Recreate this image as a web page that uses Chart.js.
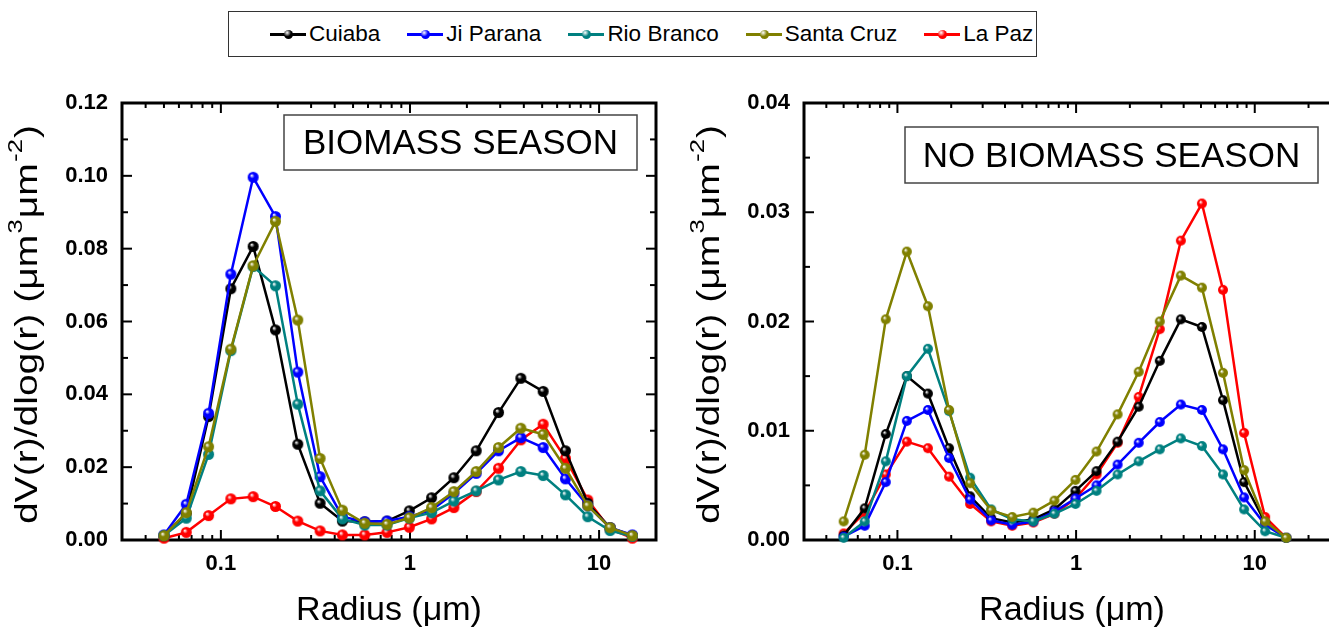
<!DOCTYPE html>
<html>
<head>
<meta charset="utf-8">
<script src="https://cdn.jsdelivr.net/npm/chart.js@4.4.0/dist/chart.umd.min.js"></script>
<style>
  html, body { margin: 0; padding: 0; background: #fff; overflow: hidden; width: 1329px; height: 633px; }
  #legend {
    position: absolute; left: 228px; top: 11px; width: 809px; height: 46px;
    box-sizing: border-box; border: 1.5px solid #333; padding-left: 41px;
    display: flex; align-items: center; justify-content: flex-start; gap: 27px;
    font: 22.5px "Liberation Sans", Arial, sans-serif; color: #000;
  }
  .item { display: flex; align-items: center; }
  .swatch { position: relative; width: 36px; height: 3px; margin-right: 3px; }
  .swatch i { position: absolute; left: 14px; top: -3px; width: 9px; height: 9px; border-radius: 50%; }
  #left { position: absolute; left: 0; top: 0; }
  #right { position: absolute; left: 665px; top: 0; }
</style>
</head>
<body>
<div id="legend"></div>
<canvas id="left" width="665" height="633"></canvas>
<canvas id="right" width="700" height="633"></canvas>
<script>
// Particle radius bins (µm)
const radiusUm = [0.05, 0.065604, 0.086077, 0.112939, 0.148184, 0.194429, 0.255105, 0.334716,
  0.439173, 0.576227, 0.756052, 0.991996, 1.301571, 1.707757, 2.240702, 2.939966,
  3.857452, 5.06126, 6.640745, 8.713145, 11.432287, 15.0];

const siteNames = ["Cuiaba", "Ji Parana", "Rio Branco", "Santa Cruz", "La Paz"];
const siteColors = ["#000000", "#0000ff", "#008080", "#808000", "#ff0000"];

// Volume size distributions, biomass burning season
const biomassCuiaba    = [0.0012, 0.0073, 0.0339, 0.0690, 0.0806, 0.0577, 0.0263, 0.0101, 0.0052, 0.0050, 0.0052, 0.0080, 0.0116, 0.0171, 0.0245, 0.0350, 0.0444, 0.0408, 0.0245, 0.0101, 0.0034, 0.0012];
const biomassJiParana  = [0.0014, 0.0098, 0.0348, 0.0730, 0.0996, 0.0888, 0.0461, 0.0174, 0.0064, 0.0050, 0.0052, 0.0064, 0.0082, 0.0128, 0.0183, 0.0245, 0.0281, 0.0254, 0.0168, 0.0094, 0.0034, 0.0014];
const biomassRioBranco = [0.0012, 0.0060, 0.0235, 0.0520, 0.0751, 0.0698, 0.0373, 0.0135, 0.0058, 0.0041, 0.0041, 0.0060, 0.0075, 0.0107, 0.0135, 0.0165, 0.0188, 0.0177, 0.0124, 0.0064, 0.0026, 0.0010];
const biomassSantaCruz = [0.0012, 0.0075, 0.0256, 0.0524, 0.0753, 0.0875, 0.0604, 0.0224, 0.0082, 0.0046, 0.0043, 0.0061, 0.0089, 0.0133, 0.0188, 0.0254, 0.0307, 0.0290, 0.0197, 0.0094, 0.0034, 0.0012];
const biomassLaPaz     = [0.0005, 0.0021, 0.0067, 0.0113, 0.0119, 0.0092, 0.0052, 0.0025, 0.0014, 0.0014, 0.0021, 0.0035, 0.0058, 0.0089, 0.0133, 0.0197, 0.0275, 0.0318, 0.0224, 0.0110, 0.0030, 0.0005];

// Volume size distributions, no biomass burning season
const cleanCuiaba    = [0.0004, 0.0029, 0.0097, 0.0150, 0.0134, 0.0084, 0.0040, 0.0020, 0.0016, 0.0019, 0.0028, 0.0045, 0.0063, 0.0090, 0.0122, 0.0164, 0.0202, 0.0195, 0.0128, 0.0053, 0.0016, 0.0002];
const cleanJiParana  = [0.0003, 0.0013, 0.0053, 0.0109, 0.0119, 0.0075, 0.0037, 0.0018, 0.0014, 0.0017, 0.0026, 0.0038, 0.0050, 0.0069, 0.0089, 0.0108, 0.0124, 0.0119, 0.0083, 0.0039, 0.0014, 0.0002];
const cleanRioBranco = [0.0002, 0.0017, 0.0072, 0.0150, 0.0175, 0.0118, 0.0057, 0.0028, 0.0019, 0.0017, 0.0024, 0.0033, 0.0045, 0.0060, 0.0072, 0.0083, 0.0093, 0.0086, 0.0060, 0.0028, 0.0008, 0.0002];
const cleanSantaCruz = [0.0017, 0.0078, 0.0202, 0.0264, 0.0214, 0.0119, 0.0052, 0.0027, 0.0021, 0.0025, 0.0036, 0.0055, 0.0081, 0.0115, 0.0154, 0.0200, 0.0242, 0.0231, 0.0153, 0.0064, 0.0017, 0.0002];
const cleanLaPaz     = [0.0006, 0.0025, 0.0060, 0.0090, 0.0084, 0.0058, 0.0033, 0.0017, 0.0013, 0.0016, 0.0024, 0.0038, 0.0060, 0.0089, 0.0131, 0.0193, 0.0274, 0.0308, 0.0229, 0.0098, 0.0021, 0.0002];

const xTickValues = [0.1, 1, 10];
const FONT = '"Liberation Sans", Arial, sans-serif';

// Shaded sphere marker sprite
function ball(color, r) {
  const s = Math.ceil(r * 2 + 2);
  const c = document.createElement('canvas');
  c.width = c.height = s;
  const g = c.getContext('2d');
  const cx = s / 2, cy = s / 2;
  const grad = g.createRadialGradient(cx - r * 0.3, cy - r * 0.35, r * 0.05, cx, cy, r);
  grad.addColorStop(0, '#ffffff');
  grad.addColorStop(0.4, color);
  grad.addColorStop(1, color);
  g.fillStyle = grad;
  g.beginPath(); g.arc(cx, cy, r, 0, Math.PI * 2); g.fill();
  return c;
}

// HTML legend shared by both panels
const legendEl = document.getElementById('legend');
siteNames.forEach((name, i) => {
  const item = document.createElement('div');
  item.className = 'item';
  const sw = document.createElement('div');
  sw.className = 'swatch';
  sw.style.background = siteColors[i];
  const dot = document.createElement('i');
  dot.style.background = `radial-gradient(circle at 35% 30%, #fff 0%, ${siteColors[i]} 45%)`;
  sw.appendChild(dot);
  const label = document.createElement('span');
  label.textContent = name;
  item.appendChild(sw); item.appendChild(label);
  legendEl.appendChild(item);
});

// Box frame with inward major/minor ticks on all four sides
const framePlugin = {
  id: 'frame',
  beforeDatasetsDraw(chart, args, opts) {
    const { ctx, chartArea: a, scales: { x, y } } = chart;
    ctx.save();
    ctx.strokeStyle = '#000';
    ctx.lineWidth = 2;
    const seg = (x1, y1, x2, y2) => { ctx.beginPath(); ctx.moveTo(x1, y1); ctx.lineTo(x2, y2); ctx.stroke(); };
    const e0 = Math.floor(Math.log10(x.min)), e1 = Math.ceil(Math.log10(x.max));
    for (let e = e0; e <= e1; e++) {
      for (let m = 1; m < 10; m++) {
        const v = m * Math.pow(10, e);
        if (v < x.min * 0.999 || v > x.max * 1.001) continue;
        const px = x.getPixelForValue(v);
        const len = m === 1 ? 10 : 5;
        seg(px, a.bottom, px, a.bottom - len);
        seg(px, a.top, px, a.top + len);
      }
    }
    const n = Math.round(y.max / opts.minorStep);
    for (let k = 0; k <= n; k++) {
      const py = y.getPixelForValue(k * opts.minorStep);
      const len = (k % 2 === 0) ? 10 : 6;
      seg(a.left, py, a.left + len, py);
      seg(a.right, py, a.right - len, py);
    }
    ctx.lineWidth = 3;
    ctx.strokeRect(a.left, a.top, a.right - a.left, a.bottom - a.top);
    ctx.restore();
  }
};

// Inset season label and rotated y-axis title with superscripts
const annotatePlugin = {
  id: 'annotate',
  afterDraw(chart, args, opts) {
    const { ctx, chartArea: a } = chart;
    ctx.save();
    // season label box
    const b = opts.box;
    ctx.lineWidth = 1.5;
    ctx.strokeStyle = '#444';
    ctx.strokeRect(b.x, b.y, b.w, b.h);
    ctx.fillStyle = '#000';
    ctx.font = `35px ${FONT}`;
    ctx.textAlign = 'center';
    ctx.textBaseline = 'middle';
    ctx.fillText(opts.text, b.x + b.w / 2, b.y + b.h / 2 + 2);

    // y title
    const parts = [
      { t: 'dV(r)/dlog(r) (\u03bcm', sup: false },
      { t: '3', sup: true },
      { t: '\u03bcm', sup: false },
      { t: '-2', sup: true },
      { t: ')', sup: false }
    ];
    const size = 32, supSize = 21, stretch = 1.22;
    let total = 0;
    parts.forEach(p => {
      ctx.font = `${p.sup ? supSize : size}px ${FONT}`;
      p.w = ctx.measureText(p.t).width + (p.sup ? 2 : 0);
      total += p.w;
    });
    ctx.translate(a.left - 85, (a.top + a.bottom) / 2 + 3);
    ctx.rotate(-Math.PI / 2);
    ctx.scale(stretch, 1);
    ctx.textAlign = 'left';
    ctx.textBaseline = 'alphabetic';
    let cx = -total / 2;
    parts.forEach(p => {
      ctx.font = `${p.sup ? supSize : size}px ${FONT}`;
      ctx.fillText(p.t, cx + (p.sup ? 1 : 0), p.sup ? -15 : 0);
      cx += p.w;
    });
    ctx.restore();
  }
};

function makeDatasets(series, r, lw) {
  const drawOrder = [4, 3, 2, 1, 5];
  return series.map((vals, i) => ({
    label: siteNames[i],
    data: radiusUm.map((x, k) => ({ x: x, y: vals[k] })),
    borderColor: siteColors[i],
    backgroundColor: siteColors[i],
    borderWidth: lw,
    pointStyle: ball(siteColors[i], r),
    pointRadius: r,
    tension: 0,
    clip: false,
    order: drawOrder[i]
  }));
}

function makeChart(id, cfg) {
  return new Chart(document.getElementById(id), {
    type: 'line',
    data: { datasets: makeDatasets(cfg.series, cfg.r, cfg.lw) },
    options: {
      responsive: false,
      animation: false,
      devicePixelRatio: 1,
      events: [],
      layout: { padding: { left: 0, right: cfg.padRight, top: 103, bottom: 0 } },
      plugins: {
        legend: { display: false },
        tooltip: { enabled: false },
        frame: { minorStep: cfg.yStep / 2 },
        annotate: { text: cfg.label, box: cfg.box }
      },
      scales: {
        x: {
          type: 'logarithmic',
          min: cfg.xMin, max: cfg.xMax,
          grid: { display: false, drawTicks: false },
          border: { display: false },
          afterBuildTicks: s => { s.ticks = xTickValues.map(v => ({ value: v })); },
          afterFit: s => { s.height = 93; },
          ticks: {
            autoSkip: false, maxRotation: 0, padding: 11, color: '#000',
            font: { family: FONT, size: 22, weight: 'bold' },
            callback: v => String(v)
          },
          title: {
            display: true, text: 'Radius (\u03bcm)', color: '#000',
            font: { family: FONT, size: 34 }, padding: { top: 0, bottom: 2 }
          }
        },
        y: {
          min: 0, max: cfg.yMax,
          grid: { display: false, drawTicks: false },
          border: { display: false },
          afterFit: s => { s.width = cfg.yWidth; },
          ticks: {
            stepSize: cfg.yStep, padding: 14, color: '#000',
            font: { family: FONT, size: 22, weight: 'bold' },
            callback: v => v.toFixed(2)
          }
        }
      }
    },
    plugins: [framePlugin, annotatePlugin]
  });
}

makeChart('left', {
  series: [biomassCuiaba, biomassJiParana, biomassRioBranco, biomassSantaCruz, biomassLaPaz],
  xMin: 0.03, xMax: 20, yMax: 0.12, yStep: 0.02,
  yWidth: 122, padRight: 9, r: 5.5, lw: 2.5,
  label: 'BIOMASS SEASON', box: { x: 284, y: 115, w: 353, h: 55 }
});

makeChart('right', {
  series: [cleanCuiaba, cleanJiParana, cleanRioBranco, cleanSantaCruz, cleanLaPaz],
  xMin: 0.03, xMax: 30, yMax: 0.04, yStep: 0.01,
  yWidth: 139, padRight: 25, r: 5, lw: 2.5,
  label: 'NO BIOMASS SEASON', box: { x: 240, y: 127, w: 413, h: 56 }
});
</script>
</body>
</html>
